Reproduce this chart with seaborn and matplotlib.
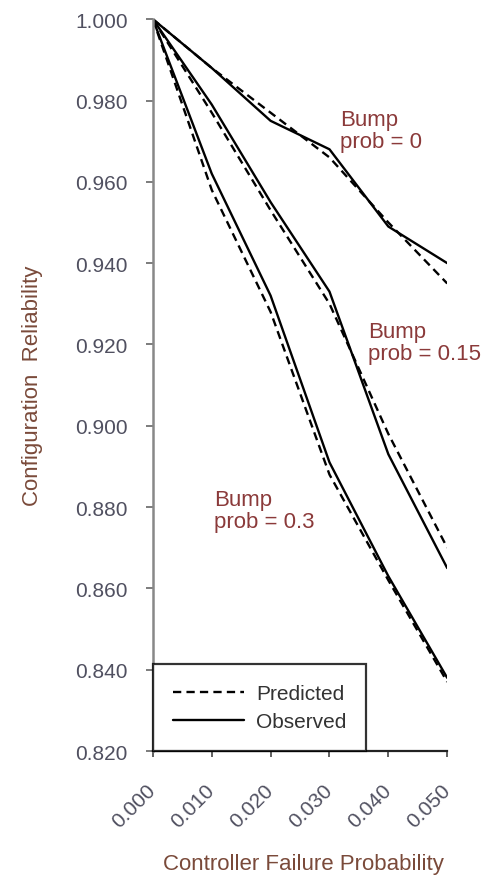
import matplotlib
matplotlib.use("Agg")
import matplotlib.pyplot as plt
import seaborn as sns
import pandas as pd

# controller failure probability (x) and reliability per bump probability
failure_prob = [0.000, 0.010, 0.020, 0.030, 0.040, 0.050]
bump_probs = ["0", "0.15", "0.3"]

predicted = {
    "0":    [1.000, 0.988, 0.977, 0.966, 0.950, 0.935],
    "0.15": [1.000, 0.977, 0.953, 0.930, 0.898, 0.870],
    "0.3":  [1.000, 0.958, 0.928, 0.888, 0.862, 0.837],
}
observed = {
    "0":    [1.000, 0.988, 0.975, 0.968, 0.949, 0.940],
    "0.15": [1.000, 0.979, 0.955, 0.933, 0.893, 0.865],
    "0.3":  [1.000, 0.962, 0.932, 0.891, 0.863, 0.838],
}
y_ticks = [0.820, 0.840, 0.860, 0.880, 0.900, 0.920, 0.940, 0.960, 0.980, 1.000]

rows = []
for kind, table in [("Predicted", predicted), ("Observed", observed)]:
    for b in bump_probs:
        for x, y in zip(failure_prob, table[b]):
            rows.append({"x": x, "y": y, "bump": b, "kind": kind})
df = pd.DataFrame(rows)

sns.set_theme(style="white")
plt.rcParams["font.family"] = ["Liberation Sans", "DejaVu Sans"]

fig = plt.figure(figsize=(4.98, 8.78), dpi=100)
ax = fig.add_axes([0.307, 0.1435, 0.591, 0.8335])

sns.lineplot(data=df, x="x", y="y", units="bump", style="kind", estimator=None,
             color="black", linewidth=1.7, ax=ax,
             dashes={"Predicted": (3.5, 2.2), "Observed": ""},
             style_order=["Predicted", "Observed"])

tick_color = "#505060"
ax.set_xlim(0, 0.05)
ax.set_ylim(0.82, 1.0)
ax.set_xticks(failure_prob)
ax.set_xticklabels([f"{v:.3f}" for v in failure_prob], rotation=45,
                   ha="right", va="center", rotation_mode="anchor",
                   fontsize=15, color=tick_color)
ax.set_yticks(y_ticks)
ax.set_yticklabels([f"{v:.3f}" for v in y_ticks], fontsize=15, color=tick_color)
ax.tick_params(axis="y", direction="out", length=5, width=1.2, color="#666666",
               left=True, pad=13)
ax.tick_params(axis="x", direction="out", length=4, width=1.2, color="#444444",
               bottom=True, pad=22)

sns.despine(ax=ax)
ax.spines["left"].set_color("#888888")
ax.spines["left"].set_linewidth(1.8)
ax.spines["bottom"].set_color("#222222")
ax.spines["bottom"].set_linewidth(1.6)

label_color = "#7a4a3a"
ax.set_xlabel("Controller Failure Probability", fontsize=16, color=label_color)
ax.xaxis.set_label_coords(0.512, -0.140)
ax.set_ylabel("Configuration  Reliability", fontsize=16, color=label_color)
ax.yaxis.set_label_coords(-0.372, 0.5)

ann_color = "#8b3a3a"
ax.text(0.0318, 0.9779, "Bump\nprob = 0", fontsize=16, color=ann_color,
        va="top", linespacing=1.05)
ax.text(0.0366, 0.9257, "Bump\nprob = 0.15", fontsize=16, color=ann_color,
        va="top", linespacing=1.05)
ax.text(0.0104, 0.8844, "Bump\nprob = 0.3", fontsize=16, color=ann_color,
        va="top", linespacing=1.05)

leg = ax.legend(loc="lower left", bbox_to_anchor=(0.0, 0.0), fontsize=15,
                frameon=True, fancybox=False, borderpad=0.95, handlelength=3.4,
                handletextpad=0.6, labelspacing=0.45, borderaxespad=0)
leg.get_frame().set_edgecolor("black")
leg.get_frame().set_linewidth(1.6)
for t in leg.get_texts():
    t.set_color("#333333")

fig.savefig("out.png", dpi=100)
